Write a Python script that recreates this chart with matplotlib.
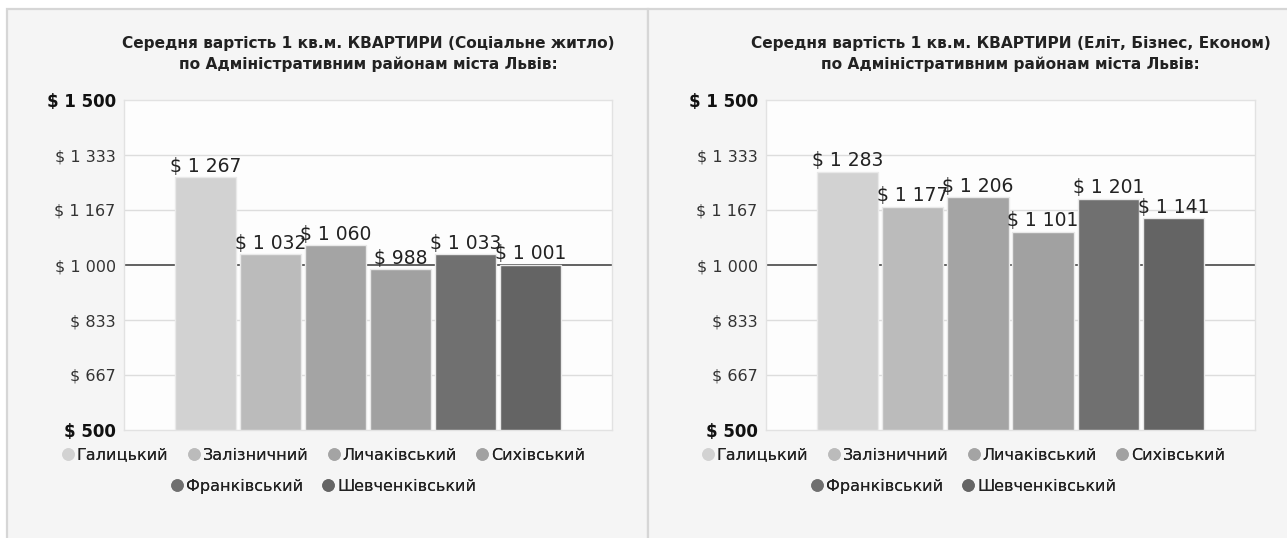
import matplotlib
matplotlib.use("Agg")
import matplotlib.pyplot as plt
from matplotlib.patches import Rectangle
from matplotlib.lines import Line2D

plt.rcParams['font.family'] = ['DejaVu Sans']

districts = ["Галицький", "Залізничний", "Личаківський", "Сихівський",
             "Франківський", "Шевченківський"]
colors = ["#d2d2d2", "#bbbbbb", "#a4a4a4", "#a1a1a1", "#707070", "#646464"]

social_prices = [1267, 1032, 1060, 988, 1033, 1001]
elite_prices = [1283, 1177, 1206, 1101, 1201, 1141]

titles = [
    "Середня вартість 1 кв.м. КВАРТИРИ (Соціальне житло)\nпо Адміністративним районам міста Львів:",
    "Середня вартість 1 кв.м. КВАРТИРИ (Еліт, Бізнес, Економ)\nпо Адміністративним районам міста Львів:",
]

y_ticks = [500, 667, 833, 1000, 1167, 1333, 1500]
y_tick_labels = ["$ 500", "$ 667", "$ 833", "$ 1 000", "$ 1 167", "$ 1 333", "$ 1 500"]

W, H = 1287, 538


def fx(px):
    return px / W


def fy(py):
    return 1 - py / H


def fmt(v):
    s = f"{v:,}".replace(",", " ")
    return "$ " + s


fig = plt.figure(figsize=(W / 100, H / 100), dpi=100)
fig.patch.set_facecolor("white")

# panel backgrounds
panels = [(7, 648), (648, 1300)]
for x0, x1 in panels:
    fig.patches.append(Rectangle((fx(x0), -0.01), fx(x1 - x0), fy(9) + 0.01,
                                 transform=fig.transFigure,
                                 facecolor="#f5f5f5", edgecolor="#d6d6d6", linewidth=1.6,
                                 zorder=-5))

axes_px = [(124, 612), (766, 1255)]
data = [social_prices, elite_prices]

for i, (prices, title) in enumerate(zip(data, titles)):
    left, right = axes_px[i]
    ax = fig.add_axes([fx(left), fy(430), fx(right - left), (430 - 100) / H])
    ax.set_facecolor("#fdfdfd")
    for s in ax.spines.values():
        s.set_color("#e2e2e2")
        s.set_linewidth(1)

    xs = list(range(len(districts)))
    bars = ax.bar(xs, [p - 500 for p in prices], bottom=500, width=0.94,
                  color=colors, edgecolor="#e9e9e9", linewidth=1, zorder=3)
    for b, p in zip(bars, prices):
        ax.text(b.get_x() + b.get_width() / 2, p + 4, fmt(p), ha="center", va="bottom",
                fontsize=13.5, color="#222222", zorder=4)

    ax.set_xlim(-1.25, 6.25)
    ax.set_ylim(500, 1500)
    ax.set_xticks([])
    ax.set_yticks(y_ticks)
    ax.set_yticklabels(y_tick_labels)
    ax.tick_params(axis="y", length=0, pad=6, labelsize=11.5, labelcolor="#333333")
    for lab, t in zip(ax.get_yticklabels(), y_ticks):
        if t in (500, 1500):
            lab.set_fontweight("bold")
            lab.set_fontsize(12)
            lab.set_color("#111111")
    for t in y_ticks[1:-1]:
        if t == 1000:
            ax.axhline(t, color="#555555", linewidth=1.3, zorder=2)
        else:
            ax.axhline(t, color="#dddddd", linewidth=1, zorder=1)

    fig.text(fx((left + right) / 2), fy(54), title, ha="center", va="center",
             fontsize=11.1, fontweight="bold", color="#222222", linespacing=1.5)

    # legend, centered on the panel, in two rows
    cx = fx((panels[i][0] + min(panels[i][1], W)) / 2 - 5)
    handles = [Line2D([], [], marker="o", linestyle="", markersize=8,
                      markerfacecolor=c, markeredgecolor=c) for c in colors]
    rows = [(0, 4, 455), (4, 6, 486)]
    for a, bnd, ypx in rows:
        leg = fig.legend(handles[a:bnd], districts[a:bnd], loc="center",
                         bbox_to_anchor=(cx, fy(ypx)), ncol=bnd - a, frameon=False,
                         fontsize=11.5, handletextpad=0.05, columnspacing=1.1,
                         handlelength=1.0, labelcolor="#222222")
        fig.add_artist(leg)

fig.savefig("out.png", dpi=100, facecolor=fig.get_facecolor())
